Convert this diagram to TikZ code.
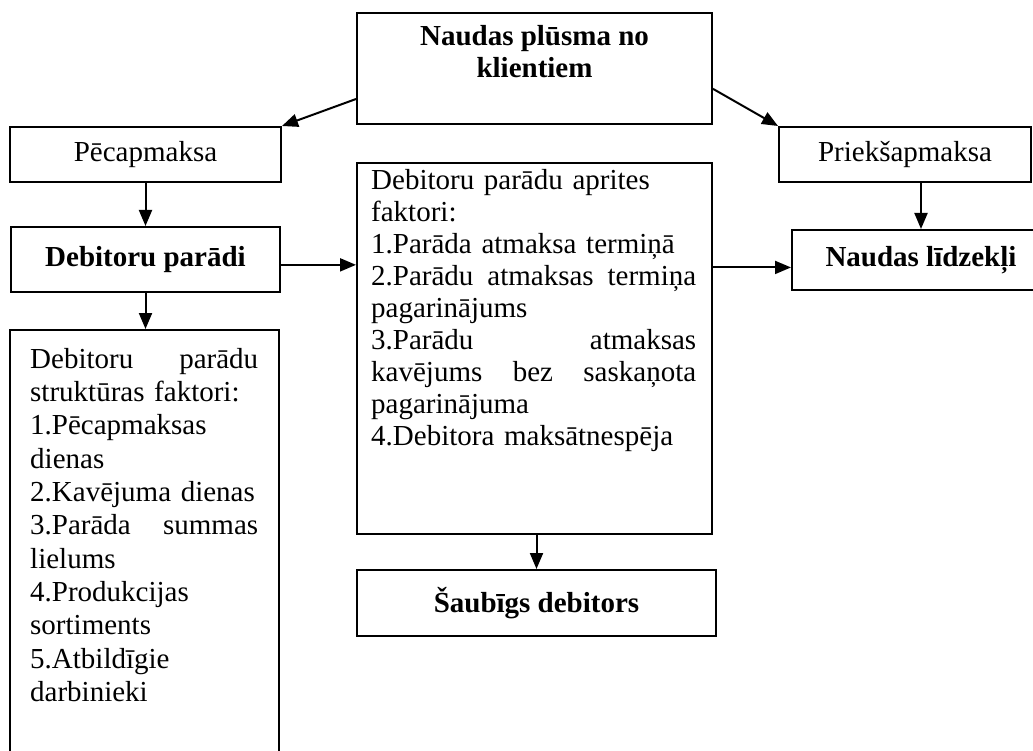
\documentclass[tikz,border=0pt]{standalone}
\usepackage{fontspec}
\setmainfont{Liberation Serif}
\usetikzlibrary{positioning,arrows.meta,calc}

\begin{document}
\begin{tikzpicture}[x=1pt,y=-1pt,
  >={Triangle[length=16pt,width=13pt]},
  box/.style={draw,line width=2pt,inner sep=0pt,font=\fontsize{29}{32.6}\selectfont},
  hbox/.style={box,font=\fontsize{29}{32.6}\selectfont\bfseries},
  txt/.style={inner sep=0pt,anchor=north west,align=left},
  ttl/.style={inner sep=0pt,anchor=north,align=center,font=\fontsize{29}{32}\selectfont\bfseries},
  arr/.style={->,line width=2pt}]
  \useasboundingbox (0,0) rectangle (1033,751);
  \clip (0,0) rectangle (1033,751);
  %  -- - top: cash flow and the two payment kinds  -- -
  \node[box, minimum width=355pt, minimum height=111pt] (klienti) at (534.5,68.5) {};
  \node[ttl] (klientiT) at ([yshift=-13pt]klienti.north) {Naudas plūsma no\\klientiem};
  \node[box, minimum width=271pt, minimum height=55pt] (pec) at (145.5,154.5) {Pēcapmaksa};
  \node[box, minimum width=252pt, minimum height=55pt] (prieks) at (905,154.5) {Priekšapmaksa};
  \draw[arr] ($(klienti.north west)!0.77!(klienti.south west)$) -- (pec.north east);
  \draw[arr] ($(klienti.north east)!0.68!(klienti.south east)$) -- (prieks.north west);
  %  -- - left column: receivables  -- -
  \node[hbox, minimum width=269pt, minimum height=65pt] (debparadi) at (145.5,259.5) {Debitoru parādi};
  \node[box, minimum width=269pt, minimum height=460pt] (struktura) at (144.5,560) {};
  \node[txt, text width=228pt, font=\fontsize{29}{33.3}\selectfont] (strukturaT)
    at ([xshift=21pt,yshift=-19pt]struktura.north west)
    {Debitoru\hfill parādu\\ struktūras faktori:\\ 1.Pēcapmaksas\\ dienas\\ 2.Kavējuma dienas\\
     3.Parāda\hfill summas\\ lielums\\ 4.Produkcijas\\ sortiments\\ 5.Atbildīgie\\ darbinieki};
  \draw[arr] (pec.south) -- (debparadi.north);
  \draw[arr] (debparadi.south) -- (debparadi.south |- struktura.north);
  %  -- - middle column: turnover factors  -- -
  \node[box, minimum width=355pt, minimum height=371pt] (aprites) at (534.5,348.5) {};
  \node[txt, text width=325pt, font=\fontsize{29}{32}\selectfont] (apritesT)
    at ([xshift=15pt,yshift=-7pt]aprites.north west)
    {Debitoru parādu aprites\\ faktori:\\ 1.Parāda atmaksa termiņā\\
     2.Parādu\hfill atmaksas\hfill termiņa\\ pagarinājums\\ 3.Parādu\hfill atmaksas\\
     kavējums\hfill bez\hfill saskaņota\\ pagarinājuma\\ 4.Debitora maksātnespēja};
  \node[hbox, minimum width=359pt, minimum height=66pt] (saubigs) at (536.5,603) {Šaubīgs debitors};
  \coordinate (dp) at ($(debparadi.north east)!0.58!(debparadi.south east)$);
  \draw[arr] (dp) -- (dp -| aprites.west);
  \draw[arr] (aprites.south -| saubigs.north) -- (saubigs.north);
  %  -- - right column: cash  -- -
  \node[hbox, minimum width=258pt, minimum height=60pt] (naudlidz) at (921,260) {Naudas līdzekļi};
  \coordinate (nl) at ($(naudlidz.north west)!0.62!(naudlidz.south west)$);
  \draw[arr] (aprites.east |- nl) -- (nl);
  \draw[arr] (prieks.south -| naudlidz.north) -- (naudlidz.north);
\end{tikzpicture}
\end{document}
